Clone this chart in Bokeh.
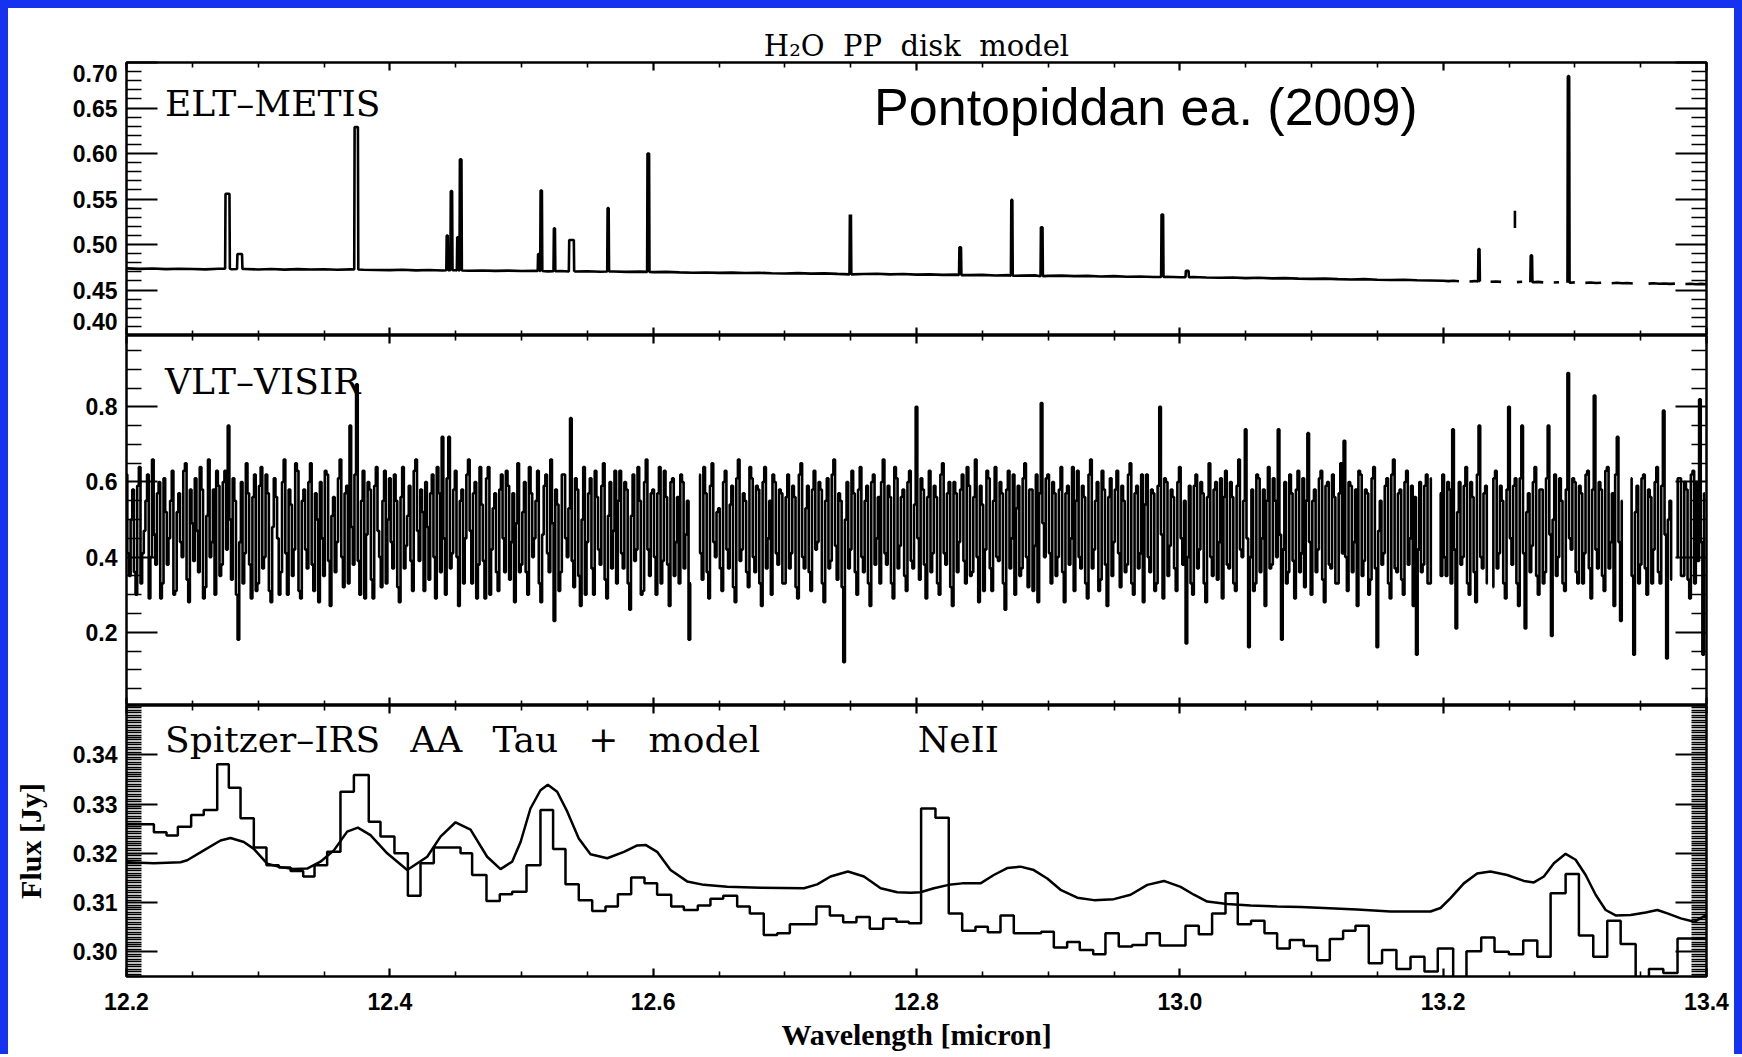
import numpy as np
from bokeh.plotting import figure
from bokeh.layouts import column
from bokeh.models import (LinearAxis, FixedTicker, PrintfTickFormatter, Label, Range1d)
from bokeh.embed import file_html
from bokeh.resources import INLINE

# ---------------------------------------------------------------- data
N = float("nan")
# ELT-METIS simulated spectrum: continuum samples
metis_base_flux_a = [  # 12.20 .. 13.20 every 0.01 micron
    0.4738, 0.4732, 0.4736, 0.4729, 0.4734, 0.4731, 0.4727, 0.4733, 0.4728, 0.4730,
    0.4726, 0.4731, 0.4724, 0.4729, 0.4725, 0.4728, 0.4722, 0.4727, 0.4723, 0.4720,
    0.4718, 0.4722, 0.4716, 0.4719, 0.4714, 0.4717, 0.4712, 0.4715, 0.4710, 0.4713,
    0.4708, 0.4711, 0.4705, 0.4709, 0.4703, 0.4706, 0.4701, 0.4704, 0.4699, 0.4702,
    0.4696, 0.4699, 0.4694, 0.4690, 0.4693, 0.4688, 0.4691, 0.4686, 0.4689, 0.4684,
    0.4682, 0.4685, 0.4680, 0.4683, 0.4677, 0.4680, 0.4675, 0.4678, 0.4672, 0.4675,
    0.4669, 0.4672, 0.4666, 0.4669, 0.4663, 0.4666, 0.4660, 0.4663, 0.4658, 0.4661,
    0.4655, 0.4658, 0.4652, 0.4655, 0.4649, 0.4652, 0.4646, 0.4649, 0.4643, 0.4646,
    0.4640, 0.4643, 0.4637, 0.4634, 0.4637, 0.4631, 0.4634, 0.4628, 0.4631, 0.4625,
    0.4622, 0.4625, 0.4619, 0.4616, 0.4619, 0.4613, 0.4610, 0.4613, 0.4607, 0.4604,
    0.4601]
metis_base_flux_b = [  # 13.204 .. 13.400 every 0.004 micron (broken data)
    0.4598, 0.4602, 0.4596, N, 0.4594, 0.4598, 0.4592, N, 0.4590, 0.4594,
    0.4589, N, N, 0.4587, 0.4591, N, 0.4585, 0.4589, 0.4584, N,
    0.4582, 0.4586, N, 0.4580, 0.4584, N, 0.4578, 0.4582, 0.4577, 0.4580,
    N, 0.4575, 0.4579, 0.4574, 0.4577, 0.4572, N, N, 0.4570, 0.4574,
    0.4569, 0.4572, 0.4567, 0.4570, N, 0.4566, 0.4569, 0.4564, 0.4567, 0.4563]
metis_base_wl = np.round(np.concatenate([12.20 + 0.01 * np.arange(len(metis_base_flux_a)),
                                         13.204 + 0.004 * np.arange(len(metis_base_flux_b))]), 4)
metis_base_flux = metis_base_flux_a + metis_base_flux_b

# ELT-METIS emission lines: centre, peak flux, local continuum, line width (micron)
metis_line_wl = [12.2767, 12.2860, 12.3745, 12.4436, 12.4468, 12.4516, 12.4538, 12.5130,
                 12.5150, 12.5250, 12.5380, 12.5658, 12.5963, 12.7498, 12.8332, 12.8724,
                 12.8951, 12.9867, 13.0056, 13.2272, 13.2670, 13.2952]
metis_line_peak = [0.5557, 0.4896, 0.6290, 0.5098, 0.5586, 0.5080, 0.5935, 0.4896,
                   0.5594, 0.5178, 0.5050, 0.5400, 0.6000, 0.5330, 0.4970, 0.5490,
                   0.5190, 0.5330, 0.4710, 0.4950, 0.4880, 0.6850]
metis_line_base = [0.4733, 0.4730, 0.4725, 0.4717, 0.4717, 0.4715, 0.4715, 0.4709,
                   0.4709, 0.4706, 0.4704, 0.4703, 0.4699, 0.4672, 0.4664, 0.4656,
                   0.4652, 0.4643, 0.4640, 0.4593, 0.4585, 0.4580]
metis_line_width = [0.0030, 0.0035, 0.0025, 0.0008, 0.0010, 0.0008, 0.0012, 0.0008,
                    0.0010, 0.0008, 0.0035, 0.0008, 0.0012, 0.0008, 0.0012, 0.0008,
                    0.0012, 0.0012, 0.0020, 0.0008, 0.0010, 0.0010]
metis_frag_wl = [13.2545, 13.2545]
metis_frag_flux = [0.5370, 0.5180]

# VLT-VISIR simulated spectrum, flux in 0.01 Jy; samples on the 0.0025 micron grid ...
visir_rows = [
    [62, 35, 58, 30, 64, 41, 55, 29, 66, 38, 60, 33, 52, 45, 63, 31, 57, 40, 65, 28,
     49, 61, 36, 58, 32, 66, 44, 30, 59, 38, 63, 75, 34, 55, 18, 60, 41, 57, 29, 62],
    [33, 64, 40, 57, 28, 61, 45, 36, 66, 30, 54, 42, 63, 29, 58, 37, 65, 31, 50, 60,
     35, 62, 27, 56, 44, 66, 32, 59, 75, 38, 86, 30, 63, 46, 58, 29, 64, 40, 55, 33],
    [61, 37, 55, 28, 64, 43, 59, 31, 66, 39, 52, 60, 34, 62, 29, 57, 72, 30, 72, 41,
     63, 27, 58, 45, 66, 33, 60, 38, 54, 29, 64, 42, 57, 31, 62, 36, 59, 44, 28, 65],
    [38, 60, 30, 57, 45, 63, 28, 59, 41, 66, 23, 54, 36, 62, 40, 77, 32, 58, 27, 64,
     44, 61, 30, 56, 38, 65, 29, 60, 47, 33, 63, 37, 58, 26, 62, 42, 55, 31, 66, 35],
    [58, 30, 64, 39, 56, 27, 61, 44, 33, 60, 46, 18, None, None, 62, 34, 57, 29, 65, 40,
     53, 31, 63, 37, 59, 28, 66, 42, 55, 32, 61, 36, 58, 27, 64, 45, 30, 60, 38, 57],
    [33, 62, 41, 56, 29, 65, 37, 59, 31, 63, 44, 58, 28, 61, 39, 66, 34, 55, 12, 60,
     42, 57, 30, 64, 36, 59, 27, 62, 45, 33, 66, 38, 56, 29, 61, 43, 58, 31, 63, 37],
    [80, 34, 58, 29, 63, 41, 56, 30, 65, 38, 60, 27, 57, 44, 62, 33, 59, 36, 66, 28,
     54, 42, 61, 31, 64, 39, 57, 26, 63, 45, 30, 59, 37, 65, 32, 58, 43, 28, 81, 40],
    [62, 33, 57, 40, 64, 28, 59, 45, 31, 63, 37, 56, 29, 66, 42, 60, 34, 58, 27, 61,
     44, 63, 32, 55, 38, 65, 30, 59, 41, 28, 62, 36, 57, 33, 80, 29, 60, 43, 56, 31],
    [64, 38, 17, 59, 30, 62, 42, 57, 28, 65, 35, 60, 44, 29, 63, 37, 56, 31, 66, 40,
     74, 16, 58, 33, 61, 45, 27, 64, 38, 55, 74, 18, 60, 36, 57, 29, 63, 41, 32, 73],
    [30, 58, 42, 63, 28, 60, 37, 56, 33, 65, 71, 31, 59, 44, 27, 62, 39, 57, 34, 64,
     16, 55, 41, 61, 29, 66, 36, 58, 30, 63, 45, 27, 14, 60, 38, 62, 33, None, None, 57],
    [62, 35, 58, 74, 21, 60, 40, 64, 30, 56, 28, 75, 37, 59, None, 32, 63, 41, 55, 29,
     80, 38, 61, 27, 75, 21, 57, 43, 64, 30, 58, 36, 75, 19, 62, 40, 55, 31, 89, 42],
    [60, 33, 57, 41, 63, 29, 83, 37, 58, 31, 64, 44, 27, 72, 23, None, None, 61, 14, 59,
     38, 62, 30, 56, 42, 64, 33, 79, 13, 55, None, 40, 61, 35, 58, 29, 63, 60, 82, 14],
]
# ... and the samples lying half-way between them
visir_rows_mid = [
    [41, 50, 36, 59, 33, 47, 62, 40, 46, 57, 29, 61, 38, 55, 30, 52, 44, 63, 34, 58,
     39, 47, 64, 29, 51, 40, 58, 63, 35, 60, 42, 50, 61, 30, 44, 33, 65, 38, 56, 31],
    [59, 37, 62, 31, 48, 56, 30, 60, 41, 58, 35, 65, 31, 55, 42, 60, 38, 57, 28, 45,
     63, 39, 51, 36, 61, 40, 57, 33, 48, 62, 39, 55, 29, 60, 34, 59, 47, 32, 63, 50],
    [44, 62, 32, 56, 37, 51, 39, 63, 47, 58, 31, 48, 57, 40, 64, 36, 45, 61, 37, 58,
     40, 55, 33, 62, 47, 57, 29, 64, 39, 61, 30, 53, 36, 58, 45, 63, 34, 57, 49, 36],
    [52, 36, 64, 40, 55, 33, 46, 62, 36, 49, 58, 31, 62, 45, 53, 39, 61, 35, 50, 30,
     57, 37, 63, 42, 59, 34, 51, 37, 63, 55, 41, 60, 33, 51, 39, 64, 30, 60, 42, 57],
    [40, 57, 33, 63, 38, 60, 35, 56, 62, 37, 55, 33, None, None, 41, 64, 36, 59, 44, 52,
     37, 60, 42, 54, 32, 61, 39, 57, 36, 64, 40, 59, 33, 60, 37, 55, 62, 41, 58, 33],
    [56, 37, 59, 32, 62, 40, 53, 36, 58, 42, 60, 33, 55, 37, 62, 43, 57, 32, 50, 37,
     63, 36, 58, 40, 55, 33, 60, 38, 56, 60, 41, 59, 33, 64, 37, 56, 35, 60, 39, 54],
    [45, 61, 38, 56, 36, 59, 33, 62, 41, 57, 32, 60, 36, 58, 39, 64, 35, 56, 40, 59,
     31, 63, 37, 55, 40, 60, 33, 58, 37, 62, 53, 35, 61, 40, 58, 31, 62, 57, 49, 61],
    [41, 60, 35, 58, 36, 57, 38, 64, 55, 40, 59, 33, 62, 37, 55, 31, 63, 38, 56, 35,
     58, 41, 59, 36, 62, 33, 57, 37, 62, 54, 40, 58, 31, 59, 46, 61, 35, 58, 37, 60],
    [45, 55, 40, 33, 59, 37, 60, 33, 56, 40, 58, 34, 61, 56, 38, 60, 33, 59, 42, 55,
     45, 40, 31, 62, 36, 58, 55, 37, 61, 40, 46, 42, 33, 62, 39, 58, 36, 61, 55, 44],
    [55, 36, 61, 34, 59, 38, 62, 33, 57, 41, 40, 60, 36, 58, 63, 35, 58, 30, 61, 37,
     47, 38, 59, 33, 62, 37, 57, 34, 60, 38, 59, 56, 42, 36, 59, 33, 61, None, None, 35],
    [40, 60, 33, 42, 52, 38, 59, 33, 60, 36, 62, 40, 57, 33, None, 61, 37, 59, 33, 58,
     45, 59, 33, 61, 41, 52, 36, 60, 35, 58, 33, 61, 46, 50, 35, 61, 33, 58, 45, 61],
    [36, 59, 33, 62, 37, 58, 42, 60, 35, 63, 37, 57, 62, 44, 55, None, None, 35, 52, 33,
     61, 37, 58, 33, 60, 36, 59, 46, 50, 34, None, 61, 35, 60, 34, 62, 33, 39, 44, 57],
]
visir_flux = []
for row, mid in zip(visir_rows, visir_rows_mid):
    for a, b in zip(row, mid):
        visir_flux.append(N if a is None else a / 100.0)
        visir_flux.append(N if b is None else b / 100.0)
visir_wl = np.round(12.2 + 0.00125 * np.arange(len(visir_flux)), 5)

# Spitzer-IRS AA Tau spectrum: bin left edges and binned flux (Jy)
spitzer_edges = [
    12.2000, 12.2208, 12.2304, 12.2390, 12.2491, 12.2587, 12.2689, 12.2777, 12.2866, 12.2967,
    12.3063, 12.3157, 12.3246, 12.3342, 12.3428, 12.3524, 12.3625, 12.3727, 12.3840, 12.3929,
    12.4035, 12.4137, 12.4233, 12.4334, 12.4435, 12.4537, 12.4625, 12.4734, 12.4835, 12.4929,
    12.5038, 12.5144, 12.5240, 12.5334, 12.5435, 12.5537, 12.5638, 12.5732, 12.5833, 12.5934,
    12.6030, 12.6137, 12.6233, 12.6339, 12.6435, 12.6532, 12.6638, 12.6734, 12.6840, 12.6942,
    12.7038, 12.7139, 12.7240, 12.7342, 12.7443, 12.7544, 12.7645, 12.7747, 12.7848, 12.7942,
    12.8035, 12.8144, 12.8245, 12.8347, 12.8448, 12.8542, 12.8638, 12.8739, 12.8840, 12.8947,
    12.9043, 12.9144, 12.9240, 12.9342, 12.9435, 12.9536, 12.9638, 12.9747, 12.9848, 12.9949,
    13.0043, 13.0144, 13.0245, 13.0347, 13.0440, 13.0541, 13.0643, 13.0739, 13.0835,
    13.0941, 13.1043, 13.1139, 13.1240, 13.1334, 13.1435, 13.1536, 13.1645, 13.1752, 13.1858,
    13.1959, 13.2076, 13.2177, 13.2289, 13.2390, 13.2499, 13.2608, 13.2715, 13.2816, 13.2930,
    13.3031, 13.3140, 13.3246, 13.3348, 13.3462, 13.3563, 13.3672, 13.3780, 13.3894]
spitzer_flux = [
    0.3259, 0.3243, 0.3236, 0.3254, 0.3278, 0.3288, 0.3381, 0.3333, 0.3271, 0.3212,
    0.3176, 0.3171, 0.3164, 0.3153, 0.3176, 0.3203, 0.3325, 0.3359, 0.3264, 0.3234,
    0.3200, 0.3114, 0.3180, 0.3212, 0.3212, 0.3200, 0.3156, 0.3103, 0.3117, 0.3122,
    0.3176, 0.3288, 0.3209, 0.3137, 0.3105, 0.3083, 0.3092, 0.3117, 0.3151, 0.3139,
    0.3116, 0.3092, 0.3085, 0.3094, 0.3108, 0.3114, 0.3092, 0.3078, 0.3034, 0.3038,
    0.3056, 0.3056, 0.3092, 0.3074, 0.3060, 0.3071, 0.3047, 0.3067, 0.3061, 0.3058,
    0.3291, 0.3272, 0.3078, 0.3043, 0.3051, 0.3040, 0.3074, 0.3038, 0.3038, 0.3041,
    0.3009, 0.3020, 0.3004, 0.2995, 0.3038, 0.3011, 0.3014, 0.3038, 0.3013, 0.3013,
    0.3053, 0.3036, 0.3078, 0.3119, 0.3056, 0.3063, 0.3038, 0.3007, 0.3024,
    0.3012, 0.2983, 0.3026, 0.3043, 0.3053, 0.2977, 0.3004, 0.2965, 0.2990, 0.2960,
    0.3007, 0.2930, 0.3001, 0.3029, 0.3000, 0.2995, 0.3023, 0.2990, 0.3119, 0.3158,
    0.3033, 0.2990, 0.3063, 0.3016, 0.2930, 0.2965, 0.2957, 0.3027, 0.3027]
spitzer_last_edge = 13.40

# H2O PP disk model at Spitzer resolution
model_wl = [
    12.2000, 12.2208, 12.2410, 12.2461, 12.2587, 12.2714, 12.2790, 12.2891, 12.2967, 12.3068,
    12.3170, 12.3271, 12.3372, 12.3473, 12.3575, 12.3676, 12.3757, 12.3853, 12.3980, 12.4132,
    12.4284, 12.4385, 12.4499, 12.4613, 12.4739, 12.4841, 12.4929, 12.4993, 12.5068, 12.5144,
    12.5200, 12.5271, 12.5347, 12.5435, 12.5524, 12.5651, 12.5778, 12.5879, 12.5942, 12.6030,
    12.6132, 12.6258, 12.6385, 12.6563, 12.6816, 12.7145, 12.7246, 12.7347, 12.7479, 12.7601,
    12.7728, 12.7854, 12.7956, 12.8030, 12.8132, 12.8245, 12.8347, 12.8486, 12.8587, 12.8689,
    12.8790, 12.8891, 12.8993, 12.9094, 12.9221, 12.9347, 12.9499, 12.9626, 12.9753, 12.9879,
    13.0006, 13.0107, 13.0208, 13.0360, 13.0538, 13.0740, 13.0918, 13.1093, 13.1346, 13.1600,
    13.1904, 13.1980, 13.2056, 13.2157, 13.2258, 13.2359, 13.2486, 13.2613, 13.2689, 13.2765,
    13.2841, 13.2930, 13.3006, 13.3082, 13.3158, 13.3234, 13.3310, 13.3424, 13.3538, 13.3627,
    13.3703, 13.3804, 13.3906, 13.4000]
model_flux = [
    0.3182, 0.3180, 0.3182, 0.3186, 0.3206, 0.3226, 0.3231, 0.3223, 0.3209, 0.3179,
    0.3172, 0.3168, 0.3169, 0.3183, 0.3206, 0.3244, 0.3252, 0.3237, 0.3200, 0.3166,
    0.3193, 0.3234, 0.3263, 0.3248, 0.3193, 0.3168, 0.3183, 0.3223, 0.3291, 0.3328,
    0.3339, 0.3325, 0.3285, 0.3230, 0.3198, 0.3190, 0.3203, 0.3216, 0.3217, 0.3203,
    0.3166, 0.3143, 0.3136, 0.3132, 0.3130, 0.3129, 0.3137, 0.3153, 0.3163, 0.3153,
    0.3129, 0.3121, 0.3120, 0.3121, 0.3129, 0.3136, 0.3139, 0.3139, 0.3156, 0.3170,
    0.3173, 0.3166, 0.3149, 0.3126, 0.3110, 0.3105, 0.3107, 0.3116, 0.3136, 0.3144,
    0.3132, 0.3116, 0.3102, 0.3097, 0.3094, 0.3092, 0.3091, 0.3089, 0.3086, 0.3082,
    0.3082, 0.3089, 0.3109, 0.3139, 0.3159, 0.3163, 0.3156, 0.3144, 0.3141, 0.3153,
    0.3180, 0.3199, 0.3187, 0.3156, 0.3116, 0.3085, 0.3074, 0.3075, 0.3080, 0.3085,
    0.3078, 0.3068, 0.3061, 0.3075]

# axis ranges and ticks
x_range_um = (12.2, 13.4)
x_major_ticks = [12.2, 12.4, 12.6, 12.8, 13.0, 13.2, 13.4]
metis_range = (0.40, 0.70)
metis_major_ticks = [0.40, 0.45, 0.50, 0.55, 0.60, 0.65, 0.70]
metis_label_ticks = [0.415, 0.45, 0.50, 0.55, 0.60, 0.65, 0.6875]
metis_label_text = {0.415: "0.40", 0.6875: "0.70"}
visir_range = (0.005, 0.99)
visir_major_ticks = [0.2, 0.4, 0.6, 0.8]
spitzer_range = (0.295, 0.350)
spitzer_major_ticks = [0.30, 0.31, 0.32, 0.33, 0.34]


def minor_ticks(lo, hi, step, majors, nd):
    vals = np.round(np.arange(lo, hi + step / 2, step), nd)
    mj = set(np.round(majors, nd))
    return [float(v) for v in vals if v not in mj]


x_minor_ticks = minor_ticks(12.2, 13.4, 0.05, x_major_ticks, 3)
metis_minor_ticks = minor_ticks(0.40, 0.70, 0.01, metis_major_ticks, 3)
visir_minor_ticks = minor_ticks(0.05, 0.95, 0.05, visir_major_ticks, 3)
spitzer_minor_ticks = minor_ticks(0.295, 0.350, 0.0005, spitzer_major_ticks, 4)

# ---------------------------------------------------------------- layout / style
W, LB, RB = 1726, 118, 28
EPS = 1e-9
XR = Range1d(x_range_um[0] - EPS, x_range_um[1] + EPS)
TICK_FONT = "Liberation Sans"
SERIF = "DejaVu Serif"


def base_fig(height, top, bottom, yr, title=None):
    p = figure(width=W, height=height, x_range=XR,
               y_range=Range1d(yr[0] - EPS, yr[1] + EPS),
               output_backend="svg", toolbar_location=None, title=title,
               x_axis_location=None, y_axis_location=None,
               min_border_left=LB, min_border_right=RB,
               min_border_top=top, min_border_bottom=bottom)
    p.xgrid.visible = False
    p.ygrid.visible = False
    p.outline_line_color = "black"
    p.outline_line_width = 2.5
    p.background_fill_color = "white"
    p.border_fill_color = "white"
    return p


def bare_ticks(p, side, positions, length, width):
    # tick marks only (no labels), pointing into the frame
    ax = LinearAxis(ticker=FixedTicker(ticks=[], minor_ticks=positions),
                    axis_line_color=None, major_tick_in=0, major_tick_out=0,
                    minor_tick_in=length, minor_tick_out=0,
                    minor_tick_line_width=width, minor_tick_line_color="black",
                    major_label_standoff=0)
    p.add_layout(ax, side)


def label_axis(p, side, majors, minors, fmt, major_len, minor_len, standoff):
    ax = LinearAxis(ticker=FixedTicker(ticks=majors, minor_ticks=minors),
                    formatter=PrintfTickFormatter(format=fmt),
                    axis_line_color=None,
                    major_tick_in=major_len, major_tick_out=0,
                    minor_tick_in=minor_len, minor_tick_out=0,
                    major_tick_line_width=2.2, minor_tick_line_width=1.6,
                    major_tick_line_color="black", minor_tick_line_color="black",
                    major_label_text_font=TICK_FONT, major_label_text_font_style="bold",
                    major_label_text_font_size="23px", major_label_text_color="black",
                    major_label_standoff=standoff)
    p.add_layout(ax, side)
    return ax


def y_ticks(p, side, majors, minors):
    bare_ticks(p, side, majors, 31, 2.2)
    bare_ticks(p, side, minors, 15, 1.6)


def x_ticks(p, side):
    bare_ticks(p, side, x_major_ticks, 8, 2.2)
    bare_ticks(p, side, x_minor_ticks, 5, 1.6)


# ---- panel 1 : ELT-METIS
p1 = base_fig(327, 54, 0, metis_range, title="H\u2082O\u00a0 PP\u00a0 disk\u00a0 model")
p1.title.align = "center"
p1.title.text_font = SERIF
p1.title.text_font_size = "29px"
p1.title.text_font_style = "normal"
p1.title.text_color = "black"
p1.title.standoff = 0
y_ticks(p1, "left", metis_major_ticks, metis_minor_ticks)
lab1 = label_axis(p1, "left", metis_label_ticks, [], "%.2f", 0, 0, 9)
lab1.major_label_overrides = metis_label_text
y_ticks(p1, "right", metis_major_ticks, metis_minor_ticks)
x_ticks(p1, "above")
x_ticks(p1, "below")

pts = list(zip(metis_base_wl, metis_base_flux))
for c, top, base, w in zip(metis_line_wl, metis_line_peak, metis_line_base, metis_line_width):
    pts += [(c - w / 2 - 0.0003, base), (c - w / 2, top), (c + w / 2, top), (c + w / 2 + 0.0003, base)]
pts.sort(key=lambda t: t[0])
p1.line([t[0] for t in pts], [t[1] for t in pts], line_width=2.6, color="black")
p1.line(metis_frag_wl, metis_frag_flux, line_width=2.6, color="black")

p1.add_layout(Label(x=12.2293, y=0.6550, text="ELT\u2013METIS", text_font=SERIF,
                    text_font_size="36px", text_baseline="alphabetic", text_color="black"))
p1.add_layout(Label(x=12.7678, y=0.6515, text="Pontopiddan ea. (2009)", text_font="Liberation Sans",
                    text_font_size="52px", text_baseline="alphabetic", text_color="black"))

# ---- panel 2 : VLT-VISIR
p2 = base_fig(370, 0, 0, visir_range)
label_axis(p2, "left", visir_major_ticks, visir_minor_ticks, "%.1f", 31, 15, 9)
y_ticks(p2, "right", visir_major_ticks, visir_minor_ticks)
x_ticks(p2, "above")
x_ticks(p2, "below")
p2.step(visir_wl, visir_flux, mode="center", line_width=2.6, color="black")
p2.add_layout(Label(x=12.2293, y=0.867, text="VLT\u2013VISIR", text_font=SERIF,
                    text_font_size="36px", text_baseline="alphabetic", text_color="black"))

# ---- panel 3 : Spitzer
p3 = base_fig(349, 0, 78, spitzer_range)
ax3 = label_axis(p3, "left", spitzer_major_ticks, spitzer_minor_ticks, "%.2f", 31, 15, 9)
ax3.axis_label = "Flux [Jy]"
ax3.axis_label_text_font = "Liberation Serif"
ax3.axis_label_text_font_style = "bold"
ax3.axis_label_text_font_size = "30px"
ax3.axis_label_text_color = "black"
ax3.axis_label_standoff = 23
y_ticks(p3, "right", spitzer_major_ticks, spitzer_minor_ticks)
x_ticks(p3, "above")
axb = label_axis(p3, "below", x_major_ticks, x_minor_ticks, "%.1f", 8, 5, 16)
axb.axis_label = "Wavelength [micron]"
axb.axis_label_text_font = "Liberation Serif"
axb.axis_label_text_font_style = "bold"
axb.axis_label_text_font_size = "30px"
axb.axis_label_text_color = "black"
axb.axis_label_standoff = 5

p3.step(spitzer_edges + [spitzer_last_edge], spitzer_flux + [spitzer_flux[-1]],
        mode="after", line_width=2.5, color="black")
p3.line(model_wl, model_flux, line_width=2.5, color="black")
p3.add_layout(Label(x=12.2293, y=0.3430,
                    text="Spitzer\u2013IRS \u00a0\u2009AA \u00a0\u2009Tau \u00a0\u2009+ \u00a0\u2009model",
                    text_font=SERIF, text_font_size="36px", text_baseline="alphabetic",
                    text_color="black"))
p3.add_layout(Label(x=12.801, y=0.3430, text="NeII", text_font=SERIF,
                    text_font_size="36px", text_baseline="alphabetic", text_color="black"))

layout = column(p1, p2, p3, spacing=0, styles={"background-color": "white"})

html = file_html(layout, INLINE, title="H2O PP disk model")
html = html.replace("<html", '<html style="background-color:#ffffff;"', 1)
head, sep, body = html.partition("</head>")
body = body.replace("<body>", '<body style="background-color:#1432f0; margin:0px; '
                              'padding:8px 8px 0px 8px; height:1046px; overflow:hidden; '
                              'box-sizing:content-box;">', 1)
open("out.html", "w").write(head + sep + body)
